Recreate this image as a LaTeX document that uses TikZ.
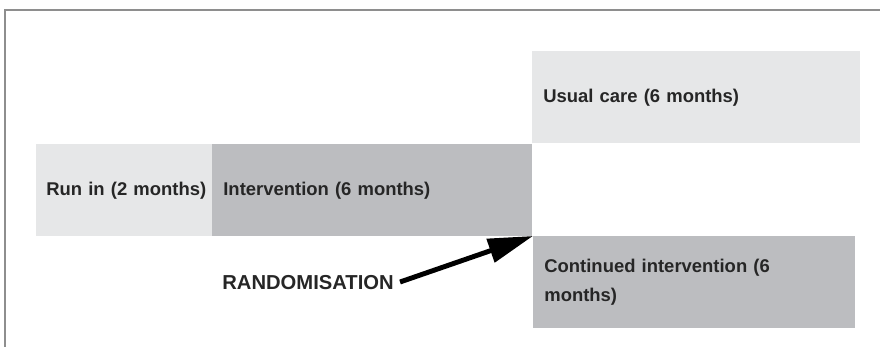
\documentclass[tikz,border=0pt]{standalone}
\usepackage{fontspec}
\setmainfont{Liberation Sans}
\usetikzlibrary{arrows.meta}
\definecolor{paleband}{HTML}{E6E7E8}
\definecolor{darkband}{HTML}{BCBDC0}
\definecolor{framegrey}{HTML}{8E8E8E}
\begin{document}
\begin{tikzpicture}[x=0.02cm, y=-0.02cm]
				\tikzstyle{every node}=[inner sep=0pt, align=left, font=\fontsize{10.5}{16.5}\selectfont\bfseries, text=black!85]
				\tikzstyle{band}=[anchor=north west, minimum height=1.84cm, inner xsep=0.22cm]
				\tikzstyle{pale}=[band, fill=paleband]
				\tikzstyle{dark}=[band, fill=darkband]
				\useasboundingbox (0, 0) rectangle (880, 347);
				\draw [framegrey, line width=1.1pt] (5, 347) -- (5, 10) -- (880, 10);
				\node [pale, inner xsep=0.2cm, text width=3.12cm] (runin) at (36, 144) {\mbox{Run in (2 months)}};
				\node [dark, text width=5.96cm] (interv) at (212, 144) {Intervention (6 months)};
				\node [pale, text width=6.12cm] (usual) at (532, 51) {Usual care (6 months)};
				\node [dark, text width=6.0cm] (cont) at (533, 236) {Continued intervention (6\\months)};
				\node [anchor=west, font=\fontsize{11.5}{15}\selectfont\bfseries] (rand) at (222, 283) {RANDOMISATION};
				\draw [-{Triangle[length=0.9cm, width=0.48cm]}, line width=2.8pt, black] (rand.east) ++(6, -1) -- (cont.north west);
		\end{tikzpicture}
\end{document}
